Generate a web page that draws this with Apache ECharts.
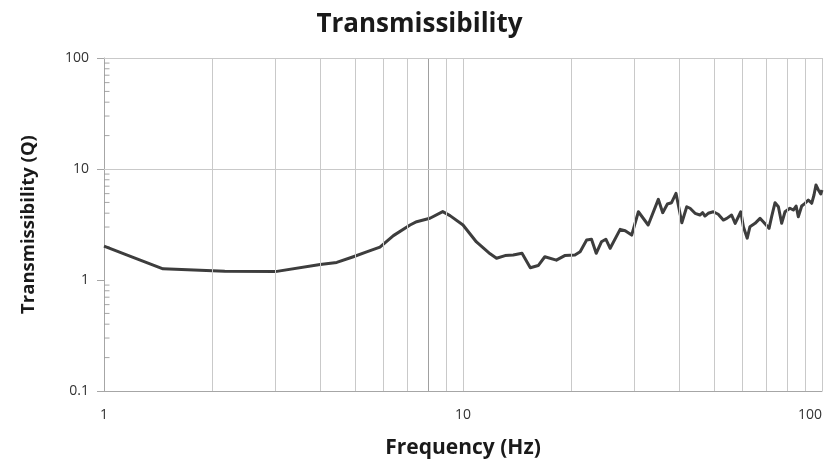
<!DOCTYPE html>
<html>
<head>
<meta charset="utf-8">
<script src="https://cdn.jsdelivr.net/npm/echarts@6/dist/echarts.min.js"></script>
<style>
  html, body { margin: 0; padding: 0; background: #fff; }
  #chart { width: 839px; height: 467px; }
</style>
</head>
<body>
<div id="chart"></div>
<script>
// Measured transmissibility curve: frequency (Hz) and Q
const freqHz = [1, 1.2, 1.46, 2.17, 3, 4, 4.45, 4.95, 5.39, 5.87, 6.4, 7.12, 7.43, 8.09, 8.78, 9.2, 10,
  10.9, 11.9, 12.4, 13.1, 13.8, 14.6, 15.4, 16.2, 16.9, 18.2, 19.2, 20.5, 21.2, 22.1, 22.8, 23.5, 24.3,
  25.0, 25.7, 27.4, 28.3, 29.5, 30.8, 32.8, 35.0, 36.0, 37.1, 38.1, 39.2, 40.7, 42.0, 42.9, 44.3, 45.7,
  46.5, 47.2, 48.2, 49.8, 51.4, 53.1, 54.3, 56.0, 57.3, 59.4, 60.4, 61.9, 63.0, 65.1, 67.2, 68.6, 71.2,
  72.4, 74.0, 75.6, 77.2, 78.9, 81.4, 83.2, 84.7, 85.9, 87.8, 89.7, 91.6, 93.6, 95.0, 96.2, 97.7, 99.2, 100];
const transQ = [2.02, 1.61, 1.26, 1.2, 1.19, 1.38, 1.44, 1.62, 1.79, 1.98, 2.51, 3.13, 3.35, 3.6, 4.13, 3.8, 3.13,
  2.2, 1.72, 1.57, 1.66, 1.68, 1.74, 1.29, 1.35, 1.62, 1.51, 1.66, 1.68, 1.80, 2.29, 2.33, 1.74, 2.21,
  2.33, 1.93, 2.86, 2.78, 2.54, 4.12, 3.13, 5.33, 4.04, 4.84, 4.97, 6.04, 3.28, 4.57, 4.43, 3.99, 3.85,
  4.04, 3.77, 3.99, 4.12, 3.91, 3.47, 3.59, 3.85, 3.24, 4.12, 3.02, 2.38, 3.02, 3.24, 3.59, 3.35, 2.92,
  3.72, 4.97, 4.57, 3.24, 4.12, 4.43, 4.27, 4.64, 3.72, 4.64, 4.91, 5.26, 4.91, 5.83, 7.18, 6.47, 5.96, 6.47];

// Axis ranges and decade gridlines
const xMin = 1, xMax = 100;
const yMin = 0.1, yMax = 100;
const xMinorGrid = [2, 3, 4, 5, 6, 7, 8, 9, 20, 30, 40, 50, 60, 70, 80, 90];
const xDarkGrid = [8];
const yGrid = [10, 100];
const yMinorTicks = [0.2, 0.3, 0.4, 0.5, 0.6, 0.7, 0.8, 0.9, 2, 3, 4, 5, 6, 7, 8, 9, 20, 30, 40, 50, 60, 70, 80, 90];

const chart = echarts.init(document.getElementById('chart'), null, { renderer: 'canvas' });
const fontFam = '"Open Sans", "Noto Sans", sans-serif';
const gridColor = '#c9c9c9';
const axisColor = '#a6a6a6';

const fmt = v => (v < 1 ? String(Number(v.toPrecision(3))) : String(Math.round(v)));

chart.setOption({
  animation: false,
  backgroundColor: '#fff',
  title: {
    text: 'Transmissibility',
    left: 'center',
    top: 7,
    textStyle: { fontFamily: fontFam, fontWeight: 'bold', fontSize: 26, color: '#1a1a1a' }
  },
  grid: { left: 104, right: 17, top: 58, bottom: 76, containLabel: false },
  xAxis: {
    type: 'log',
    logBase: 10,
    min: xMin,
    max: xMax,
    name: 'Frequency (Hz)',
    nameLocation: 'middle',
    nameGap: 47,
    nameTextStyle: { fontFamily: fontFam, fontWeight: 'bold', fontSize: 21, color: '#1a1a1a' },
    axisLine: { show: true, lineStyle: { color: axisColor, width: 1 } },
    axisTick: { show: false },
    axisLabel: { margin: 17, fontFamily: fontFam, fontSize: 14, color: '#333', formatter: fmt, alignMaxLabel: 'right' },
    splitLine: { show: true, lineStyle: { color: gridColor, width: 1 } }
  },
  yAxis: {
    type: 'log',
    logBase: 10,
    min: yMin,
    max: yMax,
    name: 'Transmissibility (Q)',
    nameLocation: 'middle',
    nameGap: 66,
    nameTextStyle: { fontFamily: fontFam, fontWeight: 'bold', fontSize: 18.5, color: '#1a1a1a' },
    axisLine: { show: true, lineStyle: { color: axisColor, width: 1 } },
    axisTick: { show: true, inside: false, length: 7, lineStyle: { color: axisColor } },
    axisLabel: { margin: 15, fontFamily: fontFam, fontSize: 14, color: '#333', formatter: fmt },
    splitLine: { show: false }
  },
  series: [
    {
      // grid lines drawn at the intermediate log positions
      type: 'line',
      data: [],
      silent: true,
      z: 1,
      markLine: {
        silent: true,
        symbol: 'none',
        label: { show: false },
        animation: false,
        data: [
          ...xMinorGrid.map(v => ({ xAxis: v, lineStyle: { color: xDarkGrid.includes(v) ? '#a0a0a0' : gridColor, width: 1, type: 'solid' } })),
          ...yGrid.map(v => ({ yAxis: v, lineStyle: { color: gridColor, width: 1, type: 'solid' } }))
        ]
      }
    },
    {
      // short inward minor ticks on the Q axis
      type: 'scatter',
      data: yMinorTicks.map(v => [xMin, v]),
      symbol: 'rect',
      symbolSize: [5, 1],
      symbolOffset: [3, 0],
      itemStyle: { color: '#8f8f8f' },
      silent: true,
      z: 2
    },
    {
      type: 'line',
      data: freqHz.map((f, i) => [f, transQ[i]]),
      showSymbol: false,
      symbol: 'none',
      smooth: false,
      lineStyle: { color: '#3d3d3d', width: 3, join: 'round' },
      z: 3
    }
  ]
});
</script>
</body>
</html>
